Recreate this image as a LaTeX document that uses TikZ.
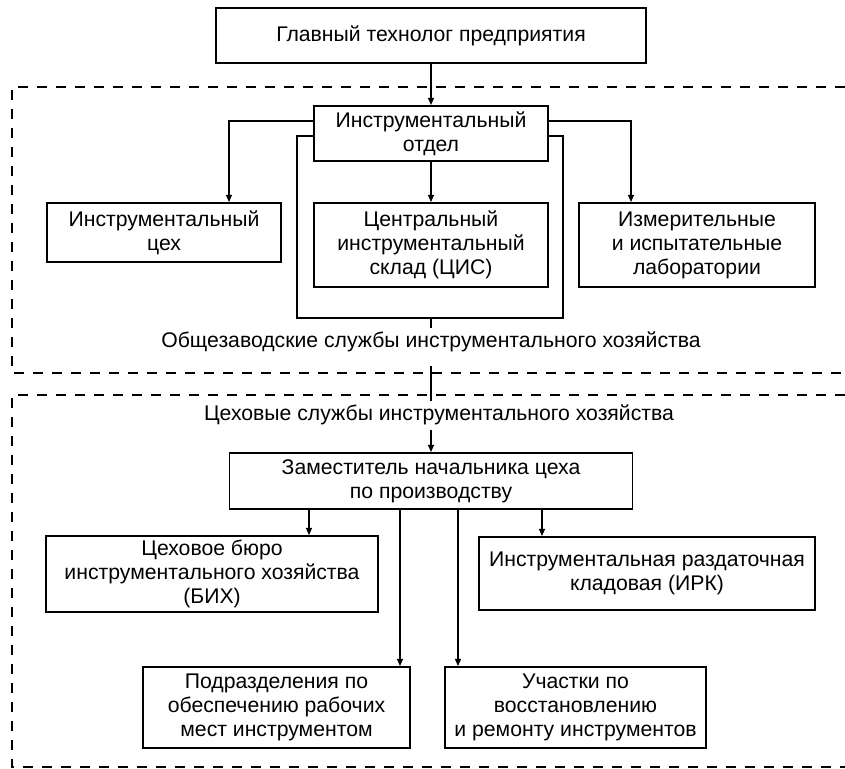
\documentclass[tikz,border=0pt]{standalone}
\usepackage{fontspec}
\setmainfont{Liberation Sans}
\usetikzlibrary{arrows.meta}

\tikzset{
  obox/.style={draw,line width=0.95pt,align=center,inner sep=2pt,
    font=\fontsize{10.6}{12}\selectfont},
  conn/.style={line width=0.7pt,-{Triangle[length=3.6pt,width=3pt]}},
  link/.style={line width=0.7pt},
  frameline/.style={line width=0.95pt},
  zone/.style={line width=1pt,dash pattern=on 5pt off 4.5pt},
  lbl/.style={inner sep=2pt,anchor=base,font=\fontsize{10.6}{12}\selectfont},
}
\newcommand{\orgbox}[6]{%
  \node[obox,minimum width=#4*0.5pt,minimum height=#5*0.5pt] (#1) at (#2,#3) {#6};
}

\begin{document}
\begin{tikzpicture}[x=0.5pt,y=-0.5pt]
  \useasboundingbox (0,0) rectangle (845,769);
  % --- Зоны (пунктир) ---
  \draw[zone] (845,87) -| (12,373) -- (845,373);
  \draw[zone] (845,395) -| (12,767) -- (845,767);
  % --- Общезаводской уровень ---
  \orgbox{chief}{431}{35.5}{430}{55}{Главный технолог предприятия}
  \orgbox{tooldept}{431}{133.5}{234}{55}{Инструментальный\\отдел}
  \orgbox{shop}{164}{232.5}{234}{59}{Инструментальный\\цех}
  \orgbox{cis}{431}{245}{234}{84}{Центральный\\инструментальный\\склад (ЦИС)}
  \orgbox{labs}{697}{245}{236}{84}{Измерительные\\и испытательные\\лаборатории}
  \coordinate (framebot) at (431,318);
  \draw[frameline] (tooldept.west |- 0,136) -| (297,318) -| (563,136)
    -- (tooldept.east |- 0,136);
  \draw[conn] (chief) -- (tooldept);
  \draw[conn] (tooldept.west |- 0,121) -| (229,0 |- shop.north);
  \draw[conn] (tooldept.east |- 0,121) -| (631,0 |- labs.north);
  \draw[conn] (tooldept) -- (cis);
  % --- Подписи зон ---
  \node[lbl,text depth=7pt] (plantlbl) at (431,348)
    {Общезаводские службы инструментального хозяйства};
  \node[lbl] (shoplbl) at (439,421)
    {Цеховые службы инструментального хозяйства};
  \draw[link] (framebot) -- (plantlbl.north);
  \draw[link] (plantlbl.south) -- (plantlbl.south |- shoplbl.north);
  % --- Цеховой уровень ---
  \orgbox{deputy}{431}{481}{403}{56}{Заместитель начальника цеха\\по производству}
  \orgbox{bureau}{212}{574}{332}{74}{Цеховое бюро\\инструментального хозяйства\\(БИХ)}
  \orgbox{irk}{647}{573.5}{336}{73}{Инструментальная раздаточная\\кладовая (ИРК)}
  \orgbox{subdiv}{276.5}{707.5}{267}{81}{Подразделения по\\обеспечению рабочих\\мест инструментом}
  \orgbox{repair}{575.5}{707.5}{261}{81}{Участки по\\восстановлению\\и ремонту инструментов}
  \draw[conn] (shoplbl.south -| deputy.north) -- (deputy.north);
  \foreach \xx/\dst in {309/bureau,400/subdiv,458/repair,542/irk}
    \draw[conn] (\xx,0 |- deputy.south) -- (\xx,0 |- \dst.north);
\end{tikzpicture}
\end{document}
